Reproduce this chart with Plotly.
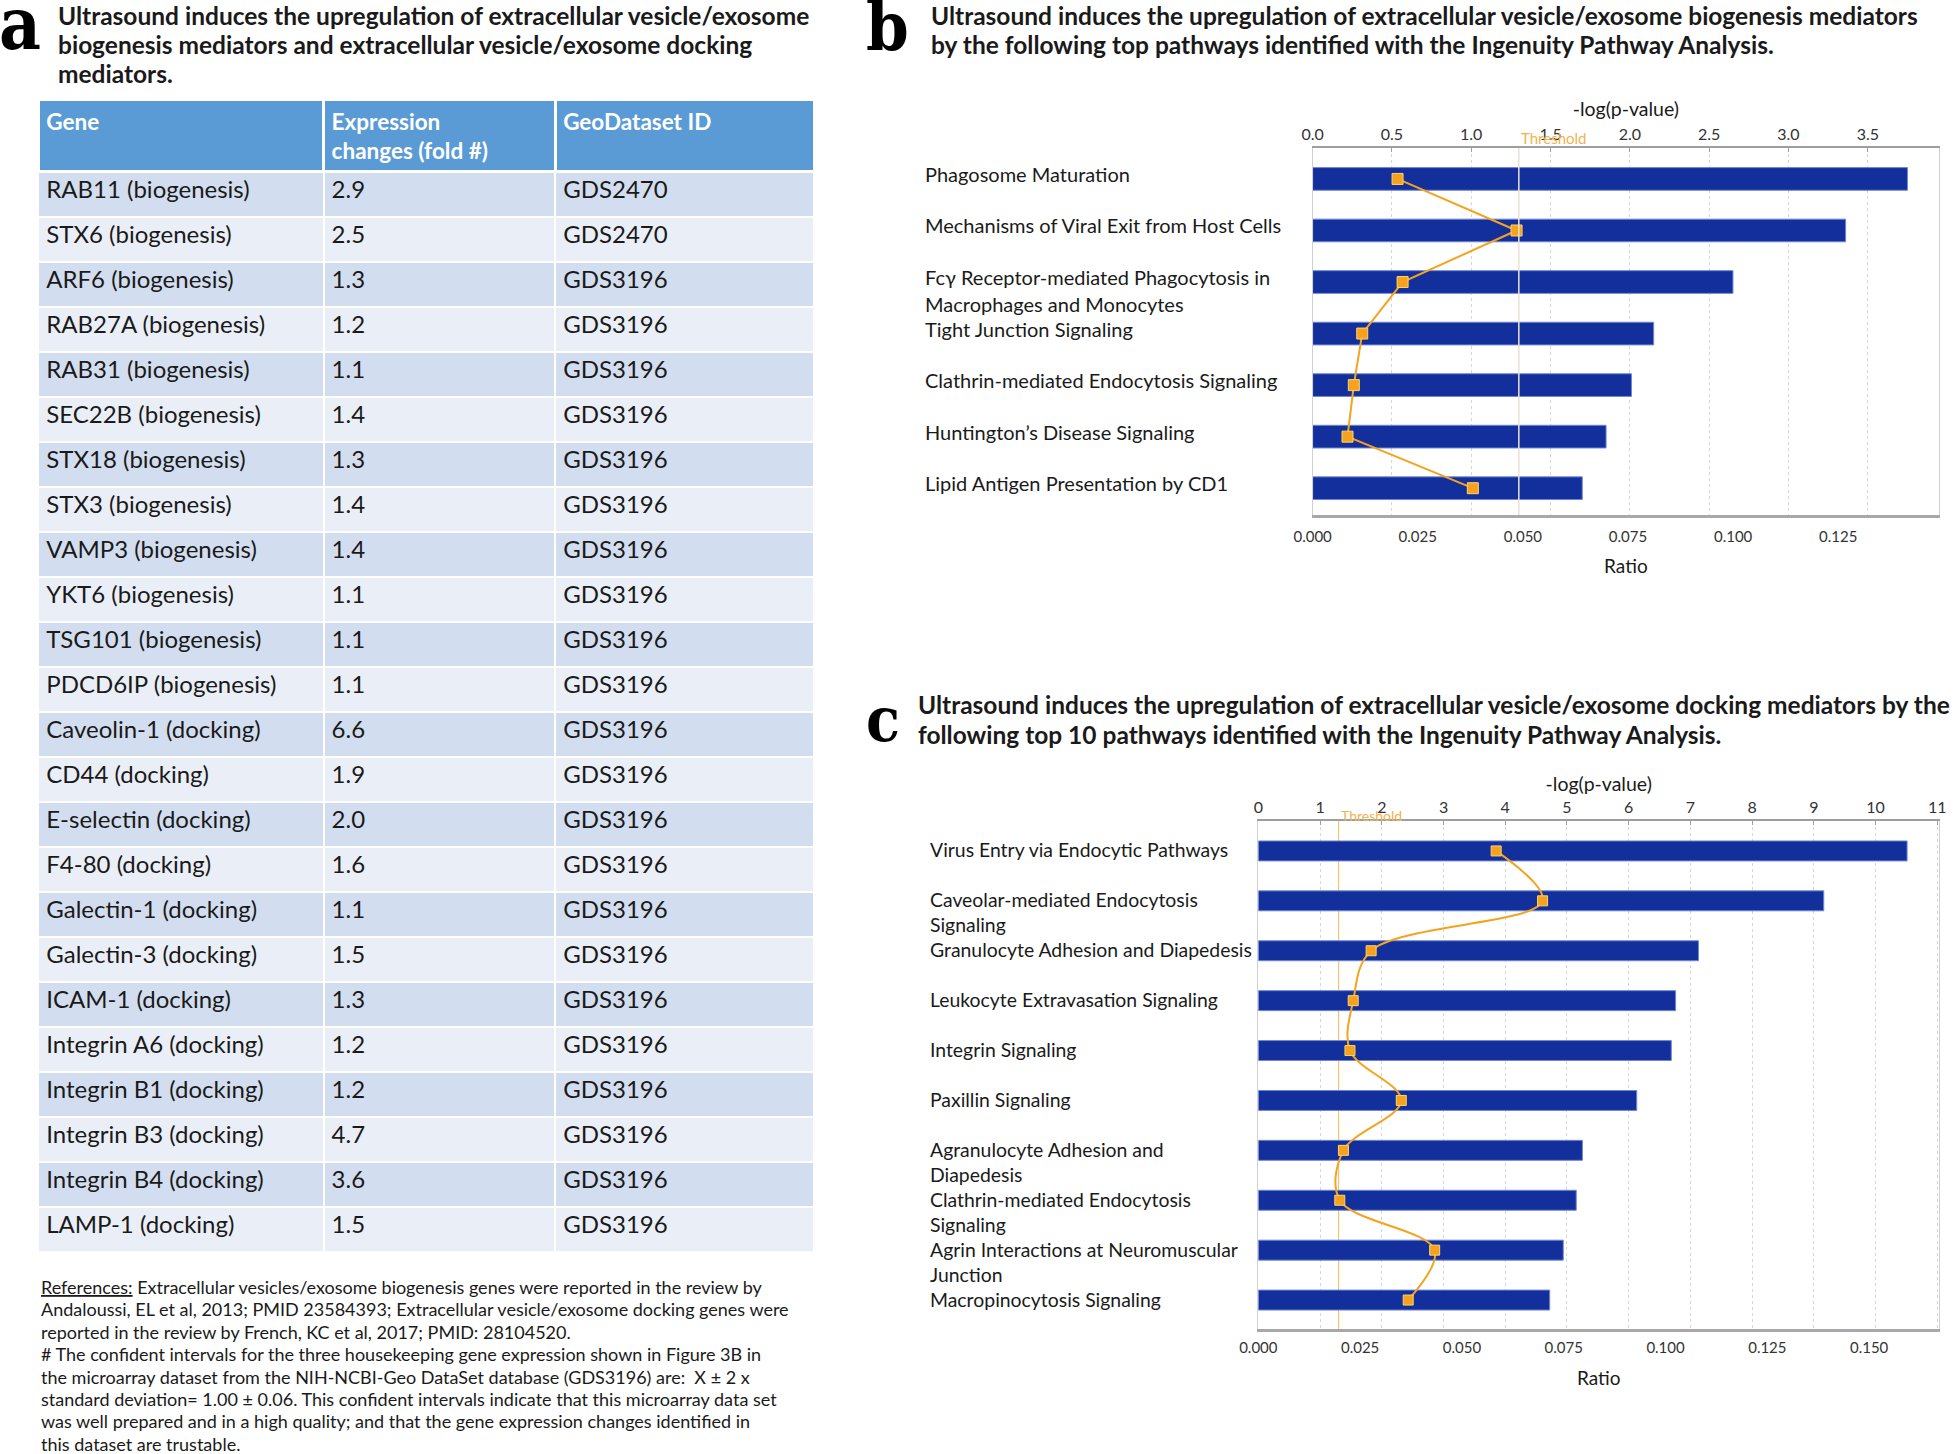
import plotly.graph_objects as go

W, H = 1960, 1454

# ---------------- data ----------------
genes = ["RAB11 (biogenesis)", "STX6 (biogenesis)", "ARF6 (biogenesis)", "RAB27A (biogenesis)",
         "RAB31 (biogenesis)", "SEC22B (biogenesis)", "STX18 (biogenesis)", "STX3 (biogenesis)",
         "VAMP3 (biogenesis)", "YKT6 (biogenesis)", "TSG101 (biogenesis)", "PDCD6IP (biogenesis)",
         "Caveolin-1 (docking)", "CD44 (docking)", "E-selectin (docking)", "F4-80 (docking)",
         "Galectin-1 (docking)", "Galectin-3 (docking)", "ICAM-1 (docking)", "Integrin A6 (docking)",
         "Integrin B1 (docking)", "Integrin B3 (docking)", "Integrin B4 (docking)", "LAMP-1 (docking)"]
fold_changes = ["2.9", "2.5", "1.3", "1.2", "1.1", "1.4", "1.3", "1.4", "1.4", "1.1", "1.1", "1.1",
                "6.6", "1.9", "2.0", "1.6", "1.1", "1.5", "1.3", "1.2", "1.2", "4.7", "3.6", "1.5"]
geo_ids = ["GDS2470", "GDS2470"] + ["GDS3196"] * 22
table_header = ["Gene", "Expression<br>changes (fold #)", "GeoDataset ID"]

b_paths = ["Phagosome Maturation", "Mechanisms of Viral Exit from Host Cells",
           "Fcγ Receptor-mediated Phagocytosis in Macrophages and Monocytes",
           "Tight Junction Signaling", "Clathrin-mediated Endocytosis Signaling",
           "Huntington’s Disease Signaling", "Lipid Antigen Presentation by CD1"]
b_label_lines = [["Phagosome Maturation"], ["Mechanisms of Viral Exit from Host Cells"],
                 ["Fcγ Receptor-mediated Phagocytosis in", "Macrophages and Monocytes"],
                 ["Tight Junction Signaling"], ["Clathrin-mediated Endocytosis Signaling"],
                 ["Huntington’s Disease Signaling"], ["Lipid Antigen Presentation by CD1"]]
b_logp = [3.75, 3.36, 2.65, 2.15, 2.01, 1.85, 1.70]
b_ratio = [0.0202, 0.0485, 0.0214, 0.0118, 0.0098, 0.0083, 0.0381]

c_paths = ["Virus Entry via Endocytic Pathways", "Caveolar-mediated Endocytosis Signaling",
           "Granulocyte Adhesion and Diapedesis", "Leukocyte Extravasation Signaling",
           "Integrin Signaling", "Paxillin Signaling", "Agranulocyte Adhesion and Diapedesis",
           "Clathrin-mediated Endocytosis Signaling ", "Agrin Interactions at Neuromuscular Junction",
           "Macropinocytosis Signaling"]
c_label_lines = [["Virus Entry via Endocytic Pathways"], ["Caveolar-mediated Endocytosis", "Signaling"],
                 ["Granulocyte Adhesion and Diapedesis"], ["Leukocyte Extravasation Signaling"],
                 ["Integrin Signaling"], ["Paxillin Signaling"], ["Agranulocyte Adhesion and", "Diapedesis"],
                 ["Clathrin-mediated Endocytosis", "Signaling"],
                 ["Agrin Interactions at Neuromuscular", "Junction"], ["Macropinocytosis Signaling"]]
c_logp = [10.51, 9.16, 7.13, 6.76, 6.69, 6.13, 5.25, 5.15, 4.94, 4.72]
c_ratio = [0.0584, 0.0698, 0.0277, 0.0233, 0.0225, 0.0351, 0.0209, 0.0200, 0.0433, 0.0368]

threshold = 1.3

title_a = ["Ultrasound induces the upregulation of extracellular vesicle/exosome",
           "biogenesis mediators and extracellular vesicle/exosome docking",
           "mediators."]
title_b = ["Ultrasound induces the upregulation of extracellular vesicle/exosome biogenesis mediators",
           "by the following top pathways identified with the Ingenuity Pathway Analysis."]
title_c = ["Ultrasound induces the upregulation of extracellular vesicle/exosome docking mediators by the",
           "following top 10 pathways identified with the Ingenuity Pathway Analysis."]
footnote = ["<u>References:</u> Extracellular vesicles/exosome biogenesis genes were reported in the review by",
            "Andaloussi, EL et al, 2013; PMID 23584393; Extracellular vesicle/exosome docking genes were",
            "reported in the review by French, KC et al, 2017; PMID: 28104520.",
            "# The confident intervals for the three housekeeping gene expression shown in Figure 3B in",
            "the microarray dataset from the NIH-NCBI-Geo DataSet database (GDS3196) are:  X ± 2 x",
            "standard deviation= 1.00 ± 0.06. This confident intervals indicate that this microarray data set",
            "was well prepared and in a high quality; and that the gene expression changes identified in",
            "this dataset are trustable."]

# ---------------- style ----------------
FONT = "Lato"
BAR = "#132F9C"
ORANGE = "#F5A31F"
TXT = "#1A1A1A"


def px_x(v):
    return v / W


def px_y(v):
    return 1 - v / H


fig = go.Figure()

# ---------- table (panel a) ----------
row_fill = ["#D2DEEF" if i % 2 == 0 else "#EAEFF7" for i in range(len(genes))]
fig.add_trace(go.Table(
    domain=dict(x=[px_x(19.5), px_x(806.5)], y=[px_y(1252), px_y(99.5)]),
    columnwidth=[228, 185, 207],
    header=dict(values=["<b>" + h + "</b>" for h in table_header], fill_color="#5B9BD5",
                align="left", height=66,
                line=dict(color="white", width=3),
                font=dict(family=FONT, size=22.5, color="white")),
    cells=dict(values=[genes, fold_changes, geo_ids], fill_color=[row_fill] * 3, align="left",
               height=45, line=dict(color="white", width=2),
               font=dict(family=FONT, size=24, color=TXT)),
))

# ---------- panel b ----------
fig.add_trace(go.Bar(x=b_logp, y=b_paths, orientation="h", xaxis="x", yaxis="y",
                     marker=dict(color=BAR, line=dict(color="#6F86D6", width=1)),
                     width=0.44, showlegend=False))
fig.add_trace(go.Scatter(x=b_ratio, y=b_paths, xaxis="x2", yaxis="y", mode="lines+markers",
                         line=dict(color=ORANGE, width=2),
                         marker=dict(symbol="square", size=11, color=ORANGE,
                                     line=dict(color="#FFD36B", width=1)),
                         showlegend=False))

# ---------- panel c ----------
fig.add_trace(go.Bar(x=c_logp, y=c_paths, orientation="h", xaxis="x3", yaxis="y2",
                     marker=dict(color=BAR, line=dict(color="#6F86D6", width=1)),
                     width=0.40, showlegend=False))
fig.add_trace(go.Scatter(x=c_ratio, y=c_paths, xaxis="x4", yaxis="y2", mode="lines+markers",
                         line=dict(color=ORANGE, width=2, shape="spline"),
                         marker=dict(symbol="square", size=10, color=ORANGE,
                                     line=dict(color="#FFD36B", width=1)),
                         showlegend=False))

b_dom_x = [px_x(1311), px_x(1946)]
b_dom_y = [px_y(515), px_y(148)]
c_dom_x = [px_x(1256), px_x(1946)]
c_dom_y = [px_y(1329), px_y(821)]

top_tickfont = dict(family=FONT, size=16, color="#333333")
bot_tickfont = dict(family=FONT, size=15, color="#333333")
top_axis = dict(side="top", showline=True, linecolor="#9E9E9E", linewidth=2, ticks="inside",
                ticklen=4, tickcolor="#9E9E9E", showgrid=True, gridcolor="#D6D6D6",
                griddash="dot", gridwidth=1, zeroline=False, tickfont=top_tickfont)
bot_axis = dict(side="bottom", showline=True, linecolor="#A8A8A8", linewidth=3, ticks="",
                showgrid=False, zeroline=False, tickfont=bot_tickfont)

fig.update_layout(
    width=W, height=H, margin=dict(l=0, r=0, t=0, b=0),
    paper_bgcolor="white", plot_bgcolor="white",
    font=dict(family=FONT, color=TXT),
    xaxis=dict(domain=b_dom_x, anchor="y", range=[0, 3.95], dtick=0.5, tickformat=".1f",
               title=dict(text="-log(p-value)", font=dict(family=FONT, size=19.5), standoff=2),
               **top_axis),
    xaxis2=dict(domain=b_dom_x, anchor="y", overlaying="x", range=[0, 0.149], dtick=0.025,
                tickformat=".3f", ticklabelstandoff=6,
                title=dict(text="Ratio", font=dict(family=FONT, size=19), standoff=16),
                **bot_axis),
    yaxis=dict(domain=b_dom_y, anchor="x", range=[6.52, -0.60], showticklabels=False,
               showline=True, linecolor="#D0D0D0", linewidth=1, mirror=True, showgrid=False,
               zeroline=False),
    xaxis3=dict(domain=c_dom_x, anchor="y2", range=[0, 11.03], dtick=1, tickformat="d",
                title=dict(text="-log(p-value)", font=dict(family=FONT, size=19.5), standoff=0),
                **top_axis),
    xaxis4=dict(domain=c_dom_x, anchor="y2", overlaying="x3", range=[0, 0.1672], dtick=0.025,
                tickformat=".3f", ticklabelstandoff=3,
                title=dict(text="Ratio", font=dict(family=FONT, size=19), standoff=17),
                **bot_axis),
    yaxis2=dict(domain=c_dom_y, anchor="x3", range=[9.58, -0.60], showticklabels=False,
                showline=True, linecolor="#D0D0D0", linewidth=1, mirror=True, showgrid=False,
                zeroline=False),
)

# threshold lines
fig.add_shape(type="line", xref="x", yref="y domain", x0=threshold, x1=threshold, y0=0, y1=1,
              line=dict(color="#E9E2D2", width=1.5), layer="above")
fig.add_shape(type="line", xref="x3", yref="y2 domain", x0=threshold, x1=threshold, y0=0, y1=1,
              line=dict(color="#F6C46E", width=1.2), layer="below")
fig.add_annotation(x=threshold, xref="x", y=1, yref="y domain", yshift=10, text="Threshold",
                   showarrow=False, xanchor="left", yanchor="middle",
                   font=dict(family=FONT, size=15, color="#F2B14F"))
fig.add_annotation(x=threshold, xref="x3", y=1, yref="y2 domain", yshift=6, text="Threshold",
                   showarrow=False, xanchor="left", yanchor="middle",
                   font=dict(family=FONT, size=14, color="#F2B14F"))

# pathway labels
for path, lines in zip(b_paths, b_label_lines):
    for k, ln in enumerate(lines):
        fig.add_annotation(x=px_x(916), xref="paper", y=path, yref="y", yshift=5 - 27 * k,
                           text=ln, showarrow=False, xanchor="left", yanchor="middle",
                           font=dict(family=FONT, size=20, color=TXT))
for path, lines in zip(c_paths, c_label_lines):
    for k, ln in enumerate(lines):
        fig.add_annotation(x=px_x(921), xref="paper", y=path, yref="y2", yshift=1 - 25 * k,
                           text=ln, showarrow=False, xanchor="left", yanchor="middle",
                           font=dict(family=FONT, size=19.4, color=TXT))

# titles
for k, ln in enumerate(title_a):
    fig.add_annotation(x=px_x(38), y=px_y(15 + 29.5 * k), xref="paper", yref="paper", text="<b>" + ln + "</b>",
                       showarrow=False, xanchor="left", yanchor="middle",
                       font=dict(family=FONT, size=24.5, color=TXT))
for k, ln in enumerate(title_b):
    fig.add_annotation(x=px_x(922), y=px_y(15 + 29 * k), xref="paper", yref="paper", text="<b>" + ln + "</b>",
                       showarrow=False, xanchor="left", yanchor="middle",
                       font=dict(family=FONT, size=24.5, color=TXT))
for k, ln in enumerate(title_c):
    fig.add_annotation(x=px_x(909), y=px_y(704 + 30 * k), xref="paper", yref="paper", text="<b>" + ln + "</b>",
                       showarrow=False, xanchor="left", yanchor="middle",
                       font=dict(family=FONT, size=24.5, color=TXT))

# panel letters
for letter, xp, yp, sz in [("a", 0, 24, 72), ("b", 856, 26, 68), ("c", 856, 720, 62)]:
    fig.add_annotation(x=px_x(xp), y=px_y(yp), xref="paper", yref="paper", xshift=(-22 if letter == "a" else 0),
                       text="<b>" + letter + "</b>",
                       showarrow=False, xanchor="left", yanchor="middle",
                       font=dict(family="DejaVu Serif Condensed, DejaVu Serif", size=sz, color="black"))

# footnote
for k, ln in enumerate(footnote):
    fig.add_annotation(x=px_x(20), y=px_y(1287 + 22.4 * k), xref="paper", yref="paper", text=ln,
                       showarrow=False, xanchor="left", yanchor="middle",
                       font=dict(family=FONT, size=18, color=TXT))

fig.write_html("out.html", post_script="document.body.style.margin='0';",
               config={"displayModeBar": False})
